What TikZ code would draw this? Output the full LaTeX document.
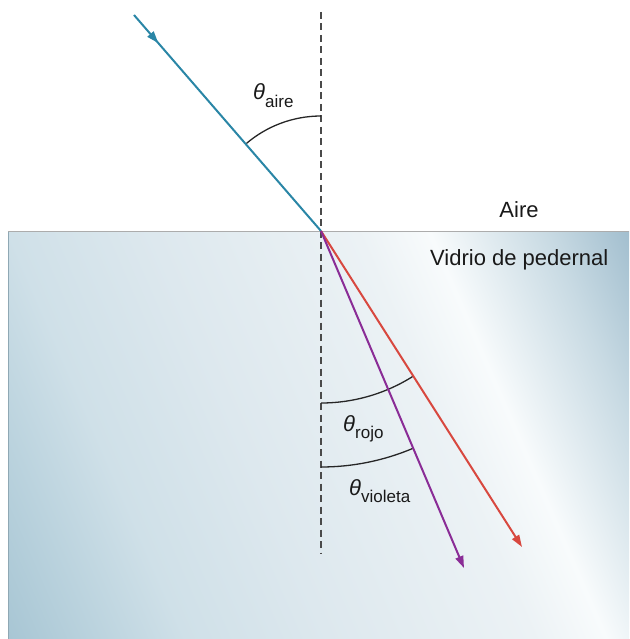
\documentclass[tikz,border=0pt]{standalone}
\usepackage{fontspec}
\setmainfont{Liberation Sans}
\usetikzlibrary{arrows.meta,decorations.markings}
\definecolor{incid}{HTML}{2A86A6}
\definecolor{rojo}{HTML}{D8483F}
\definecolor{violeta}{HTML}{8A2C96}
\definecolor{gA}{HTML}{A8C6D4}
\definecolor{gAB}{HTML}{BBD3DE}
\definecolor{gB}{HTML}{CFE0E8}
\definecolor{gC}{HTML}{DDE8EE}
\definecolor{gCD}{HTML}{ECF2F5}
\definecolor{gD}{HTML}{F8FBFC}
\definecolor{gE}{HTML}{C8DAE3}
\definecolor{gF}{HTML}{A3BFCF}
\definecolor{normalgray}{HTML}{4A4A4A}
\pgfdeclarehorizontalshading{glassshade}{100bp}{color(0bp)=(gA); color(29.7bp)=(gA); color(34.2bp)=(gAB); color(38.7bp)=(gB); color(46bp)=(gC); color(56.5bp)=(gCD); color(60.2bp)=(gD); color(66.2bp)=(gE); color(70.3bp)=(gF); color(100bp)=(gF)}
\begin{document}
\begin{tikzpicture}[x=1pt,y=-1pt,
  ray/.style={line width=2pt},
  tipend/.style={-{Triangle[length=12pt,width=8pt]}},
  normalline/.style={draw=normalgray,line width=1.4pt,dash pattern=on 7pt off 4.5pt},
  anglearc/.style={draw=black!85,line width=1.3pt},
  lbl/.style={font=\fontsize{22}{24}\selectfont,inner sep=0pt,text=black!90}]
\useasboundingbox (0,0) rectangle (629,639);
% glass block
\begin{scope}
\clip (8,231) rectangle (629,639);
\path[shading=glassshade,shading angle=23.5] (-131.5,-15) rectangle (768.5,885);
\end{scope}
\draw[draw=gA!85!black,line width=1pt] (8.5,231) -- (8.5,639);
\draw[draw=gray!65,line width=1pt] (8,231) -- (629,231);
% key points
\coordinate (P) at (321,231);
\coordinate (S) at (134,15);
\coordinate (R) at (522,547);
\coordinate (V) at (464,568);
\coordinate (NT) at (321,12);
\coordinate (NB) at (321,553);
% normal
\draw[normalline] (NT) -- (NB);
% angle arcs
\draw[anglearc] ([shift={(0,-115)}]P) arc[start angle=-90,end angle=-131,radius=115];
\draw[anglearc] ([shift={(0,172)}]P) arc[start angle=90,end angle=57.6,radius=172];
\draw[anglearc] ([shift={(0,236)}]P) arc[start angle=90,end angle=67.1,radius=236];
% rays
\draw[ray,incid,postaction={decorate},decoration={markings,mark=at position 0.13 with {\arrow{Triangle[length=12pt,width=8pt]}}}] (S) -- (P);
\draw[ray,rojo,tipend] (P) -- (R);
\draw[ray,violeta,tipend] (P) -- (V);
% labels
\node[lbl,anchor=base west] (laire) at (253,100) {\itshape θ\normalfont\raisebox{-8pt}{\fontsize{17}{18}\selectfont aire}};
\node[lbl,anchor=base west] (lrojo) at (343,431) {\itshape θ\normalfont\raisebox{-7pt}{\fontsize{17}{18}\selectfont rojo}};
\node[lbl,anchor=base west] (lviol) at (349,495) {\itshape θ\normalfont\raisebox{-7pt}{\fontsize{17}{18}\selectfont violeta}};
\node[lbl,anchor=base] (aire) at (519,217) {Aire};
\node[lbl,anchor=base west] (vidrio) at (430,265) {Vidrio de pedernal};
\end{tikzpicture}
\end{document}
